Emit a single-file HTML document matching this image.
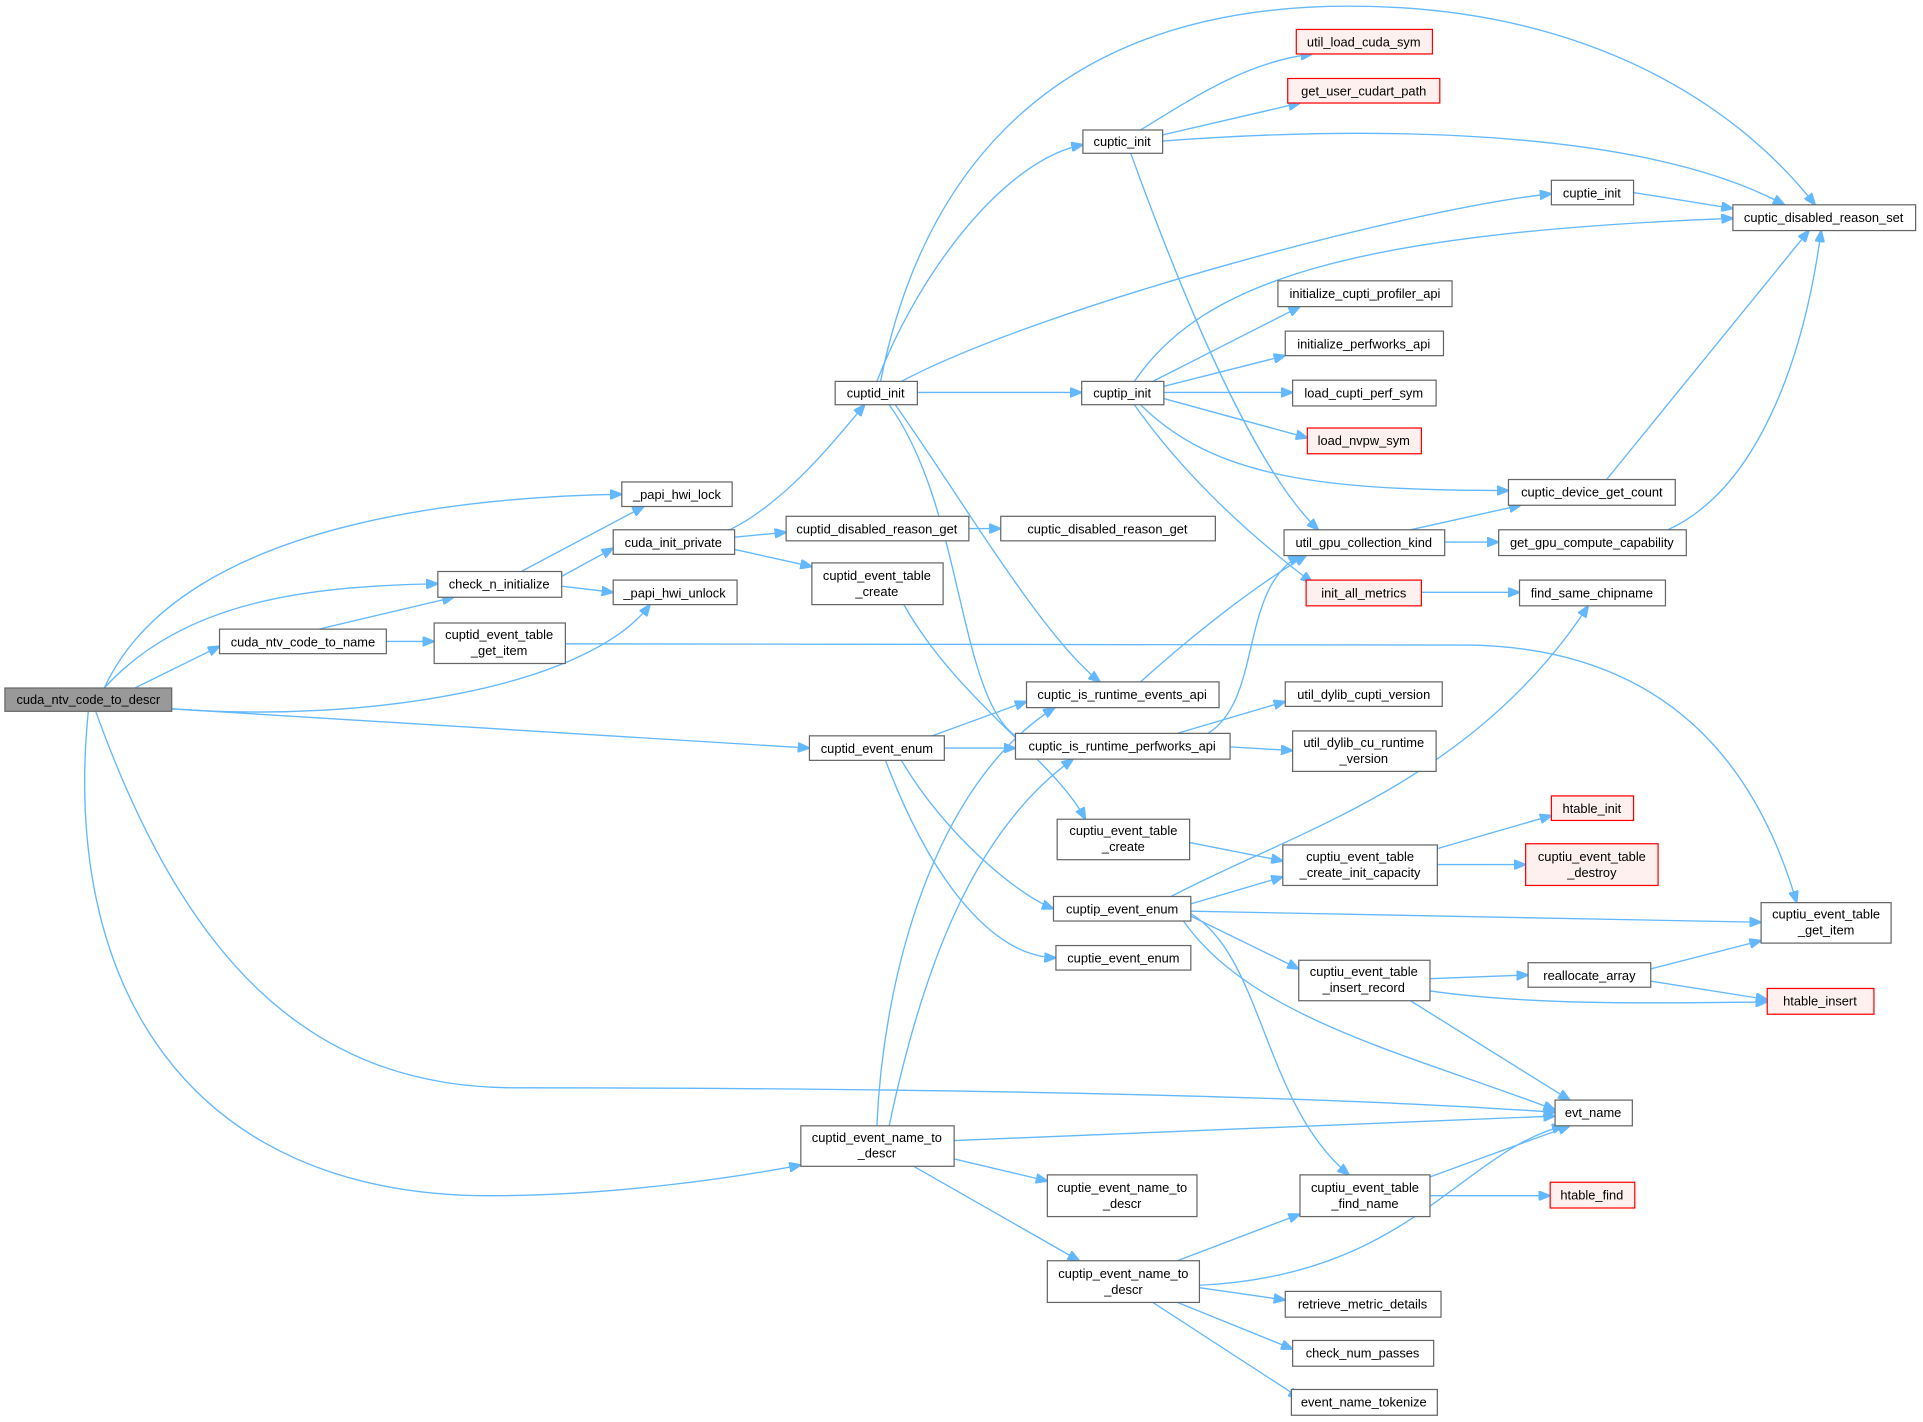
<!DOCTYPE html>
<html><head><meta charset="utf-8"><style>
html,body{margin:0;padding:0;background:#fff;}
svg{display:block;}
text{font-family:"Liberation Sans",sans-serif;font-size:10.5px;fill:#000;text-anchor:middle;}
.n{fill:#fff;stroke:#666;stroke-width:1;}
.r{fill:#fff0f0;stroke:#f00;stroke-width:1;}
.g{fill:#999;stroke:#666;stroke-width:1;}
.e{fill:none;stroke:#63b8ff;stroke-width:1.1;marker-end:url(#a);}
</style></head><body>
<svg width="1923" height="1422" viewBox="0 0 1568 1159.5" xmlns="http://www.w3.org/2000/svg">
<defs><marker id="a" markerUnits="userSpaceOnUse" markerWidth="10" markerHeight="8" refX="9.5" refY="4" orient="auto"><path d="M0,0 L10,4 L0,8 z" fill="#63b8ff" stroke="#63b8ff"/></marker></defs>
<g>
<path class="e" d="M85,561 C150,420 400,405 507,403"/>
<path class="e" d="M85,561 C150,490 250,478 357,476"/>
<path class="e" d="M110,561 L179,527"/>
<path class="e" d="M140,578 C300,590 480,560 530,493"/>
<path class="e" d="M140,578 L660,610"/>
<path class="e" d="M78,580 C150,780 250,887 420,887 C800,887 1100,895 1268,907"/>
<path class="e" d="M72,580 C50,800 150,975 400,975 C500,975 600,960 653,950"/>
<path class="e" d="M425,466 L525,413"/>
<path class="e" d="M458,478 L500,483"/>
<path class="e" d="M458,470 L500,447"/>
<path class="e" d="M260,513 L370,487"/>
<path class="e" d="M315,523 L354,523"/>
<path class="e" d="M461,525 L1200,526 C1380,530 1440,650 1465,736"/>
<path class="e" d="M595,432 C640,410 680,360 705,330"/>
<path class="e" d="M599,438 L641,434"/>
<path class="e" d="M599,448 L662,462"/>
<path class="e" d="M790,431 L816,431"/>
<path class="e" d="M737,493 C780,570 860,620 885,668"/>
<path class="e" d="M718,311 C750,150 850,5 1100,5 C1300,5 1420,90 1480,167"/>
<path class="e" d="M715,311 C750,220 820,130 883,118"/>
<path class="e" d="M735,311 C850,250 1150,170 1265,158"/>
<path class="e" d="M748,320 L882,320"/>
<path class="e" d="M730,330 C780,400 850,520 897,556"/>
<path class="e" d="M725,330 C790,420 780,590 840,606"/>
<path class="e" d="M930,106 C980,75 1020,50 1070,44"/>
<path class="e" d="M948,110 L1060,84"/>
<path class="e" d="M948,115 C1150,100 1350,110 1455,167"/>
<path class="e" d="M922,125 C960,230 1020,380 1075,432"/>
<path class="e" d="M1332,157 L1413,170"/>
<path class="e" d="M925,311 C980,230 1100,190 1413,178"/>
<path class="e" d="M940,311 L1060,250"/>
<path class="e" d="M949,315 L1048,290"/>
<path class="e" d="M949,320 L1054,320"/>
<path class="e" d="M949,325 L1066,357"/>
<path class="e" d="M930,330 C990,390 1080,400 1230,400"/>
<path class="e" d="M925,330 C960,380 1010,430 1070,475"/>
<path class="e" d="M1310,391 L1475,188"/>
<path class="e" d="M1150,432 L1240,412"/>
<path class="e" d="M1178,442 L1222,442"/>
<path class="e" d="M1360,432 C1430,400 1470,300 1485,188"/>
<path class="e" d="M1159,483 L1239,483"/>
<path class="e" d="M930,556 C970,520 1020,480 1065,453"/>
<path class="e" d="M985,598 C1030,570 1010,480 1060,453"/>
<path class="e" d="M960,598 L1048,572"/>
<path class="e" d="M1003,609 L1054,612"/>
<path class="e" d="M760,600 L837,572"/>
<path class="e" d="M770,610 L828,610"/>
<path class="e" d="M735,620 C770,680 830,730 859,741"/>
<path class="e" d="M722,620 C760,720 810,780 861,781"/>
<path class="e" d="M970,687 L1046,702"/>
<path class="e" d="M1172,692 L1265,665"/>
<path class="e" d="M1172,705 L1244,705"/>
<path class="e" d="M955,731 C1050,680 1200,640 1295,494"/>
<path class="e" d="M971,737 L1046,715"/>
<path class="e" d="M971,743 L1436,752"/>
<path class="e" d="M971,747 L1059,790"/>
<path class="e" d="M965,751 C1020,830 1150,860 1268,905"/>
<path class="e" d="M971,745 C1030,780 1030,900 1100,958"/>
<path class="e" d="M1166,798 L1246,795"/>
<path class="e" d="M1166,808 C1250,820 1350,818 1441,817"/>
<path class="e" d="M1150,816 L1280,897"/>
<path class="e" d="M1346,790 L1436,767"/>
<path class="e" d="M1346,800 L1441,815"/>
<path class="e" d="M778,930 L1268,910"/>
<path class="e" d="M778,945 L854,963"/>
<path class="e" d="M745,951 L880,1028"/>
<path class="e" d="M715,918 C720,800 760,640 860,577"/>
<path class="e" d="M725,918 C750,800 790,680 875,619"/>
<path class="e" d="M1165,960 L1280,918"/>
<path class="e" d="M1166,975 L1264,975"/>
<path class="e" d="M960,1028 L1060,990"/>
<path class="e" d="M978,1048 C1150,1040 1190,940 1275,918"/>
<path class="e" d="M978,1050 L1048,1060"/>
<path class="e" d="M960,1062 L1054,1100"/>
<path class="e" d="M940,1062 L1060,1140"/>
</g>
<g>
<rect class="g" x="4" y="561" width="136" height="19"/><text x="72" y="574">cuda_ntv_code_to_descr</text>
<rect class="n" x="507" y="393" width="90" height="20"/><text x="552" y="407">_papi_hwi_lock</text>
<rect class="n" x="357" y="466" width="101" height="21"/><text x="407" y="480">check_n_initialize</text>
<rect class="n" x="500" y="473" width="101" height="20"/><text x="550" y="487">_papi_hwi_unlock</text>
<rect class="n" x="179" y="513" width="136" height="20"/><text x="247" y="527">cuda_ntv_code_to_name</text>
<rect class="n" x="500" y="432" width="99" height="20"/><text x="549" y="446">cuda_init_private</text>
<rect class="n" x="354" y="508" width="107" height="33"/><text x="407" y="521">cuptid_event_table</text><text x="407" y="534">_get_item</text>
<rect class="n" x="641" y="421" width="149" height="20"/><text x="715" y="435">cuptid_disabled_reason_get</text>
<rect class="n" x="662" y="459" width="107" height="34"/><text x="715" y="473">cuptid_event_table</text><text x="715" y="486">_create</text>
<rect class="n" x="816" y="421" width="175" height="20"/><text x="903" y="435">cuptic_disabled_reason_get</text>
<rect class="n" x="681" y="311" width="67" height="19"/><text x="714" y="324">cuptid_init</text>
<rect class="n" x="883" y="106" width="65" height="19"/><text x="915" y="119">cuptic_init</text>
<rect class="r" x="1057" y="24" width="111" height="20"/><text x="1112" y="38">util_load_cuda_sym</text>
<rect class="r" x="1050" y="64" width="124" height="20"/><text x="1112" y="78">get_user_cudart_path</text>
<rect class="n" x="1265" y="147" width="67" height="20"/><text x="1298" y="161">cuptie_init</text>
<rect class="n" x="1413" y="167" width="149" height="21"/><text x="1487" y="181">cuptic_disabled_reason_set</text>
<rect class="n" x="1042" y="229" width="142" height="21"/><text x="1113" y="243">initialize_cupti_profiler_api</text>
<rect class="n" x="1048" y="270" width="129" height="20"/><text x="1112" y="284">initialize_perfworks_api</text>
<rect class="n" x="882" y="311" width="67" height="19"/><text x="915" y="324">cuptip_init</text>
<rect class="n" x="1054" y="310" width="117" height="21"/><text x="1112" y="324">load_cupti_perf_sym</text>
<rect class="r" x="1066" y="349" width="93" height="21"/><text x="1112" y="363">load_nvpw_sym</text>
<rect class="n" x="1230" y="391" width="136" height="21"/><text x="1298" y="405">cuptic_device_get_count</text>
<rect class="n" x="1047" y="432" width="131" height="21"/><text x="1112" y="446">util_gpu_collection_kind</text>
<rect class="n" x="1222" y="432" width="153" height="21"/><text x="1298" y="446">get_gpu_compute_capability</text>
<rect class="r" x="1065" y="473" width="94" height="21"/><text x="1112" y="487">init_all_metrics</text>
<rect class="n" x="1239" y="473" width="119" height="21"/><text x="1298" y="487">find_same_chipname</text>
<rect class="n" x="837" y="556" width="157" height="21"/><text x="915" y="570">cuptic_is_runtime_events_api</text>
<rect class="n" x="828" y="598" width="175" height="21"/><text x="915" y="612">cuptic_is_runtime_perfworks_api</text>
<rect class="n" x="1048" y="556" width="128" height="20"/><text x="1112" y="570">util_dylib_cupti_version</text>
<rect class="n" x="1054" y="596" width="117" height="33"/><text x="1112" y="609">util_dylib_cu_runtime</text><text x="1112" y="622">_version</text>
<rect class="n" x="660" y="600" width="110" height="20"/><text x="715" y="614">cuptid_event_enum</text>
<rect class="n" x="862" y="668" width="108" height="33"/><text x="916" y="681">cuptiu_event_table</text><text x="916" y="694">_create</text>
<rect class="r" x="1265" y="649" width="67" height="20"/><text x="1298" y="663">htable_init</text>
<rect class="n" x="1046" y="689" width="126" height="33"/><text x="1109" y="702">cuptiu_event_table</text><text x="1109" y="715">_create_init_capacity</text>
<rect class="r" x="1244" y="688" width="108" height="34"/><text x="1298" y="702">cuptiu_event_table</text><text x="1298" y="715">_destroy</text>
<rect class="n" x="859" y="731" width="112" height="20"/><text x="915" y="745">cuptip_event_enum</text>
<rect class="n" x="1436" y="736" width="106" height="33"/><text x="1489" y="749">cuptiu_event_table</text><text x="1489" y="762">_get_item</text>
<rect class="n" x="861" y="771" width="110" height="20"/><text x="916" y="785">cuptie_event_enum</text>
<rect class="n" x="1059" y="783" width="107" height="33"/><text x="1112" y="796">cuptiu_event_table</text><text x="1112" y="809">_insert_record</text>
<rect class="n" x="1246" y="785" width="100" height="20"/><text x="1296" y="799">reallocate_array</text>
<rect class="r" x="1441" y="806" width="87" height="21"/><text x="1484" y="820">htable_insert</text>
<rect class="n" x="1268" y="897" width="63" height="21"/><text x="1299" y="911">evt_name</text>
<rect class="n" x="653" y="918" width="125" height="33"/><text x="715" y="931">cuptid_event_name_to</text><text x="715" y="944">_descr</text>
<rect class="n" x="854" y="958" width="122" height="34"/><text x="915" y="972">cuptie_event_name_to</text><text x="915" y="985">_descr</text>
<rect class="n" x="1060" y="958" width="106" height="34"/><text x="1113" y="972">cuptiu_event_table</text><text x="1113" y="985">_find_name</text>
<rect class="r" x="1264" y="964" width="69" height="21"/><text x="1298" y="978">htable_find</text>
<rect class="n" x="854" y="1028" width="124" height="34"/><text x="916" y="1042">cuptip_event_name_to</text><text x="916" y="1055">_descr</text>
<rect class="n" x="1048" y="1053" width="127" height="21"/><text x="1111" y="1067">retrieve_metric_details</text>
<rect class="n" x="1054" y="1093" width="115" height="21"/><text x="1111" y="1107">check_num_passes</text>
<rect class="n" x="1053" y="1133" width="119" height="21"/><text x="1112" y="1147">event_name_tokenize</text>
</g>
</svg>
</body></html>
